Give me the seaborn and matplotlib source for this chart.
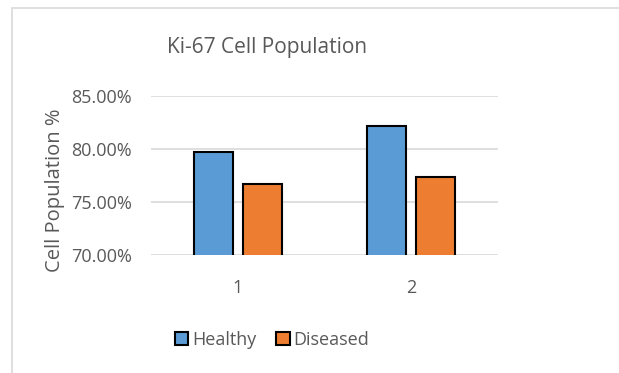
import matplotlib
matplotlib.use("Agg")
import matplotlib.pyplot as plt
import seaborn as sns
import pandas as pd
from matplotlib.patches import Rectangle
from matplotlib.ticker import FuncFormatter

categories = ["1", "2"]
healthy = [0.7967, 0.8217]
diseased = [0.7670, 0.7740]
series_names = ["Healthy", "Diseased"]
yticks = [0.70, 0.75, 0.80, 0.85]
title = "Ki-67 Cell Population"
ylabel = "Cell Population %"

df = pd.DataFrame({
    "cat": categories * 2,
    "val": healthy + diseased,
    "series": [series_names[0]] * len(categories) + [series_names[1]] * len(categories),
})

sns.set_theme(style="white")
plt.rcParams["font.family"] = ["Open Sans", "DejaVu Sans"]
txt = "#595959"
colors = ["#5B9BD5", "#ED7D31"]

fig = plt.figure(figsize=(6.19, 3.73), dpi=100)
fig.patch.set_facecolor("white")
ax = fig.add_axes([151/619, 1-255/373, (498-151)/619, (255-96)/373])

sns.barplot(data=df, x="cat", y="val", hue="series", order=categories,
            hue_order=series_names, palette=colors, saturation=1,
            width=0.565, gap=0.2, edgecolor="black", linewidth=1.5,
            ax=ax, legend=False, zorder=3)

ax.set_ylim(0.70, 0.85)
ax.set_yticks(yticks)
ax.yaxis.set_major_formatter(FuncFormatter(lambda v, p: f"{v*100:.2f}%"))
ax.grid(axis="y", color="#d9d9d9", linewidth=1.2, zorder=0)
ax.set_axisbelow(True)
for s in ax.spines.values():
    s.set_visible(False)
ax.tick_params(axis="both", length=0, labelsize=13, colors=txt)
ax.tick_params(axis="y", pad=14)
ax.tick_params(axis="x", pad=17)
ax.set_xlabel("")
ax.set_ylabel(ylabel, fontsize=14.5, color=txt)
ax.yaxis.set_label_coords((65-151)/347, (255-190)/159)

fig.text(267/619, 1-48/373, title, ha="center", va="center", fontsize=15, color=txt)

handles = [Rectangle((0, 0), 1, 1, facecolor=c, edgecolor="black", linewidth=1.5)
           for c in colors]
fig.legend(handles, series_names, loc="center", bbox_to_anchor=(272/619, 1-340/373),
           ncol=2, frameon=False, fontsize=13, labelcolor=txt,
           handlelength=0.75, handleheight=0.75, handletextpad=0.2, columnspacing=1.1)

fig.patches.append(Rectangle((12/619, -0.1), 1.0, 1 - 8/373 + 0.1, transform=fig.transFigure,
                             fill=False, edgecolor="#d9d9d9", linewidth=1.2))

fig.savefig("out.png", dpi=100, facecolor="white")
